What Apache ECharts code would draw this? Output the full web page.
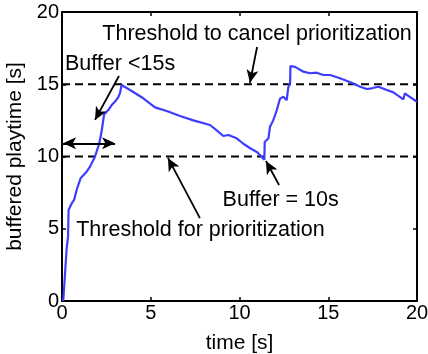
<!DOCTYPE html>
<html>
<head>
<meta charset="utf-8">
<script src="https://cdn.jsdelivr.net/npm/echarts@6/dist/echarts.min.js"></script>
<style>
  html, body { margin: 0; padding: 0; background: #fff; }
  #chart { width: 428px; height: 354px; }
</style>
</head>
<body>
<div id="chart"></div>
<script>
// Playback buffer over time
const timeS = [0.07, 0.26, 0.34, 0.37, 0.55, 0.68, 0.83, 1.05, 1.2, 1.39, 1.58, 1.86, 2.1, 2.24, 2.37,
  2.6, 2.8, 2.99, 3.17, 3.27, 3.3, 3.36, 3.45, 3.83, 4.58, 5.24, 5.9, 6.65, 7.4, 8.34, 8.7,
  9.09, 9.37, 9.84, 10.2, 10.6, 11.0, 11.4, 11.42, 11.63, 11.72, 11.9, 12.1, 12.28, 12.47,
  12.66, 12.75, 12.85, 12.87, 13.13, 13.6, 13.97, 14.35, 14.72, 15.1, 15.66, 16.32, 16.8,
  17.17, 17.45, 17.82, 18.3, 18.67, 19.23, 19.32, 19.51, 20.0];
const bufferS = [0, 3.6, 4.45, 6.3, 6.76, 7.0, 7.7, 8.5, 8.7, 8.95, 9.3, 10.0, 10.9, 11.8, 12.9,
  13.2, 13.56, 13.8, 14.1, 14.4, 14.6, 14.95, 14.83, 14.6, 14.03, 13.4, 13.15, 12.8, 12.5, 12.18, 11.83,
  11.42, 11.49, 11.26, 10.9, 10.57, 10.3, 9.78, 11.0, 11.26, 12.06, 12.5, 13.2, 14.0, 14.14,
  13.9, 14.8, 15.07, 16.26, 16.2, 15.87, 15.76, 15.8, 15.64, 15.64, 15.41, 15.1, 14.83,
  14.67, 14.72, 14.83, 14.6, 14.44, 13.96, 14.37, 14.19, 13.79];

// Thresholds
const cancelThreshold = 15;
const startThreshold = 10;

// Axis ticks
const xTicks = [0, 5, 10, 15, 20];
const yTicks = [0, 5, 10, 15, 20];

// Annotation texts and anchor points (data units)
const notes = [
  { text: 'Threshold to cancel prioritization', at: [10.99, 18.48] },
  { text: 'Buffer <15s', at: [3.27, 16.4] },
  { text: 'Threshold for prioritization', at: [7.8, 4.88] },
  { text: 'Buffer = 10s', at: [12.32, 6.99] }
];
// Arrows: from -> to (data units)
const arrows = [
  { from: [10.99, 17.58], to: [10.59, 15.1], both: false },
  { from: [3.21, 15.57], to: [1.86, 12.53], both: false },
  { from: [0.06, 10.91], to: [2.99, 10.91], both: true },
  { from: [7.77, 5.74], to: [5.97, 9.9], both: false },
  { from: [12.23, 8.03], to: [11.49, 9.69], both: false }
];

const FONT = 'Liberation Sans, Arial, Helvetica, sans-serif';
const xMin = xTicks[0], xMax = xTicks[xTicks.length - 1];
const yMin = yTicks[0], yMax = yTicks[yTicks.length - 1];
const step = xTicks[1] - xTicks[0];

const chart = echarts.init(document.getElementById('chart'), null, { renderer: 'canvas' });

const boxAxis = {
  axisLine: { show: true, onZero: false, lineStyle: { color: '#000', width: 2 } },
  axisTick: { show: true, inside: true, length: 4, lineStyle: { color: '#000', width: 1.5 } },
  splitLine: { show: false }
};

chart.setOption({
  animation: false,
  backgroundColor: '#fff',
  grid: { left: 62, right: 11, top: 12, bottom: 53, containLabel: false, outerBoundsMode: 'none' },
  xAxis: [
    Object.assign({
      type: 'value', min: xMin, max: xMax, interval: step,
      name: 'time [s]', nameLocation: 'middle', nameGap: 32,
      nameTextStyle: { color: '#000', fontSize: 21, fontFamily: FONT },
      axisLabel: { color: '#000', fontSize: 20, fontFamily: FONT, margin: 2 }
    }, boxAxis),
    Object.assign({
      type: 'value', position: 'top', min: xMin, max: xMax, interval: step,
      axisLabel: { show: false }
    }, boxAxis)
  ],
  yAxis: [
    Object.assign({
      type: 'value', min: yMin, max: yMax, interval: step,
      name: 'buffered playtime [s]', nameLocation: 'middle', nameGap: 33,
      nameTextStyle: { color: '#000', fontSize: 21, fontFamily: FONT },
      axisLabel: { color: '#000', fontSize: 20, fontFamily: FONT, margin: 3, padding: [4, 0, 0, 0] }
    }, boxAxis),
    Object.assign({
      type: 'value', position: 'right', min: yMin, max: yMax, interval: step,
      axisLabel: { show: false }
    }, boxAxis)
  ],
  series: [
    {
      name: 'cancel', type: 'line', silent: true, symbol: 'none',
      data: [[xMin, cancelThreshold], [xMax, cancelThreshold]],
      lineStyle: { color: '#000', width: 1.8, type: [8, 5] }
    },
    {
      name: 'start', type: 'line', silent: true, symbol: 'none',
      data: [[xMin, startThreshold], [xMax, startThreshold]],
      lineStyle: { color: '#000', width: 1.8, type: [8, 5] }
    },
    {
      name: 'buffer', type: 'line', silent: true, symbol: 'none',
      data: timeS.map((t, i) => [t, bufferS[i]]),
      lineStyle: { color: '#3d3dff', width: 2.2 },
      z: 3,
      markLine: {
        silent: true,
        animation: false,
        symbolSize: [9, 13],
        label: { show: false },
        lineStyle: { color: '#000', width: 1.8, type: 'solid' },
        emphasis: { disabled: true },
        data: arrows.map(a => [
          { coord: a.from, symbol: a.both ? 'arrow' : 'none' },
          { coord: a.to, symbol: 'arrow' }
        ])
      },
      markPoint: {
        silent: true,
        animation: false,
        symbol: 'circle',
        symbolSize: 0,
        data: notes.map(n => ({
          coord: n.at,
          label: {
            show: true, position: 'inside', formatter: n.text,
            color: '#000', fontSize: 21.5, fontFamily: FONT
          }
        }))
      }
    }
  ]
});
</script>
</body>
</html>
